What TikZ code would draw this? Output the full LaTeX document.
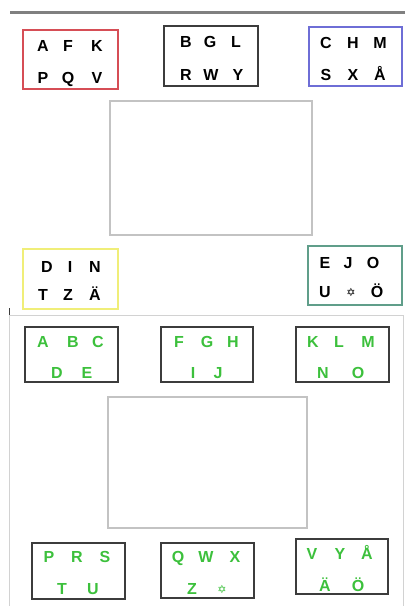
\documentclass[tikz,border=0pt]{standalone}
\usepackage{fontspec}
\setmainfont{Liberation Sans}
\newfontfamily\symfont{DejaVu Sans}
\definecolor{boxred}{RGB}{214,78,86}
\definecolor{boxblue}{RGB}{110,110,214}
\definecolor{boxyellow}{RGB}{240,238,120}
\definecolor{boxteal}{RGB}{96,158,138}
\definecolor{boxdark}{RGB}{60,60,60}
\definecolor{boxlight}{RGB}{195,195,195}
\definecolor{panelgray}{RGB}{210,210,210}
\definecolor{lgreen}{RGB}{60,192,60}
\definecolor{topgray}{RGB}{128,128,128}
\tikzset{
  lt/.style={font=\fontsize{16}{16}\selectfont\bfseries, anchor=base, inner sep=0pt, text=black},
  gl/.style={lt, text=lgreen},
  starst/.style={font=\fontsize{11}{11}\symfont, anchor=base, inner sep=0pt},
  lbox/.style={draw, line width=1.3pt, inner sep=0pt, fill=none},
  emptybox/.style={draw=boxlight, line width=1.2pt, inner sep=0pt}
}
\begin{document}
\begin{tikzpicture}[x=1pt,y=-1pt]
\useasboundingbox (0,0) rectangle (405,606);
% top rule
\coordinate (ruleL) at (10,12);
\coordinate (ruleR) at (405,12);
\draw[topgray, line width=3pt] (ruleL) -- (ruleR);
% lower panel
\coordinate (pTL) at (9,315);
\coordinate (pTR) at (403,315);
\coordinate (pBL) at (9,607);
\coordinate (pBR) at (403,607);
\coordinate (pDark) at (9,308);
\draw[panelgray, line width=1pt] (pBL) -- (pTL) -- (pTR) -- (pBR);
\draw[boxdark, line width=1pt] (pDark) -- (pTL);

% ---- top boxes ----
\node[lbox, draw=boxred, minimum width=95pt, minimum height=59pt] (redbox) at (70.5,59.5) {};
\node[lbox, draw=boxdark, minimum width=94pt, minimum height=60pt] (blackbox) at (211,56) {};
\node[lbox, draw=boxblue, minimum width=93pt, minimum height=59pt] (bluebox) at (355.5,56.5) {};
\node[emptybox, minimum width=202pt, minimum height=134pt] (midtop) at (211,168) {};
\node[lbox, draw=boxyellow, minimum width=95pt, minimum height=60pt] (yellowbox) at (70.5,279) {};
\node[lbox, draw=boxteal, minimum width=94pt, minimum height=59pt] (tealbox) at (355,275.5) {};

% red box letters
\node[lt] (tA) at (43,51) {A};
\node[lt] (tF) at (68,51) {F};
\node[lt] (tK) at (97,51) {K};
\node[lt] (tP) at (43,83) {P};
\node[lt] (tQ) at (68,83) {Q};
\node[lt] (tV) at (97,83) {V};
% black box letters
\node[lt] (tB) at (186,47) {B};
\node[lt] (tG) at (210,47) {G};
\node[lt] (tL) at (236,47) {L};
\node[lt] (tR) at (186,80) {R};
\node[lt] (tW) at (211,80) {W};
\node[lt] (tY) at (238,80) {Y};
% blue box letters
\node[lt] (tC) at (326,48) {C};
\node[lt] (tH) at (353,48) {H};
\node[lt] (tM) at (380,48) {M};
\node[lt] (tS) at (326,80) {S};
\node[lt] (tX) at (353,80) {X};
\node[lt] (tAA) at (380,80) {Å};
% yellow box letters
\node[lt] (tD) at (47,272) {D};
\node[lt] (tI) at (70,272) {I};
\node[lt] (tN) at (95,272) {N};
\node[lt] (tT) at (43,300) {T};
\node[lt] (tZ) at (68,300) {Z};
\node[lt] (tAE) at (95,300) {Ä};
% teal box letters
\node[lt] (tE) at (325,268) {E};
\node[lt] (tJ) at (348,268) {J};
\node[lt] (tO) at (373,268) {O};
\node[lt] (tU) at (325,297) {U};
\node[starst] (tStar) at (351,296) {✡};
\node[lt] (tOE) at (377,297) {Ö};

% ---- lower boxes ----
\node[lbox, draw=boxdark, minimum width=93pt, minimum height=55pt] (b1) at (71.5,354.5) {};
\node[lbox, draw=boxdark, minimum width=92pt, minimum height=55pt] (b2) at (207,354.5) {};
\node[lbox, draw=boxdark, minimum width=93pt, minimum height=55pt] (b3) at (342.5,354.5) {};
\node[emptybox, minimum width=199pt, minimum height=131pt] (midbot) at (207.5,462.5) {};
\node[lbox, draw=boxdark, minimum width=93pt, minimum height=56pt] (b4) at (78.5,571) {};
\node[lbox, draw=boxdark, minimum width=93pt, minimum height=55pt] (b5) at (207.5,570.5) {};
\node[lbox, draw=boxdark, minimum width=92pt, minimum height=55pt] (b6) at (342,566.5) {};

% b1
\node[gl] (gA) at (43,347) {A};
\node[gl] (gB) at (73,347) {B};
\node[gl] (gC) at (98,347) {C};
\node[gl] (gD) at (57,378) {D};
\node[gl] (gE) at (87,378) {E};
% b2
\node[gl] (gF) at (179,347) {F};
\node[gl] (gG) at (207,347) {G};
\node[gl] (gH) at (233,347) {H};
\node[gl] (gI) at (193,378) {I};
\node[gl] (gJ) at (218,378) {J};
% b3
\node[gl] (gK) at (313,347) {K};
\node[gl] (gL) at (339,347) {L};
\node[gl] (gM) at (368,347) {M};
\node[gl] (gN) at (323,378) {N};
\node[gl] (gO) at (358,378) {O};
% b4
\node[gl] (gP) at (49,562) {P};
\node[gl] (gR) at (77,562) {R};
\node[gl] (gS) at (105,562) {S};
\node[gl] (gT) at (62,594) {T};
\node[gl] (gU) at (93,594) {U};
% b5
\node[gl] (gQ) at (178,562) {Q};
\node[gl] (gW) at (206,562) {W};
\node[gl] (gX) at (235,562) {X};
\node[gl] (gZ) at (192,594) {Z};
\node[starst, text=lgreen] (gStar) at (222,593) {✡};
% b6
\node[gl] (gV) at (312,559) {V};
\node[gl] (gY) at (340,559) {Y};
\node[gl] (gAA) at (367,559) {Å};
\node[gl] (gAE) at (325,591) {Ä};
\node[gl] (gOE) at (358,591) {Ö};
\end{tikzpicture}
\end{document}
